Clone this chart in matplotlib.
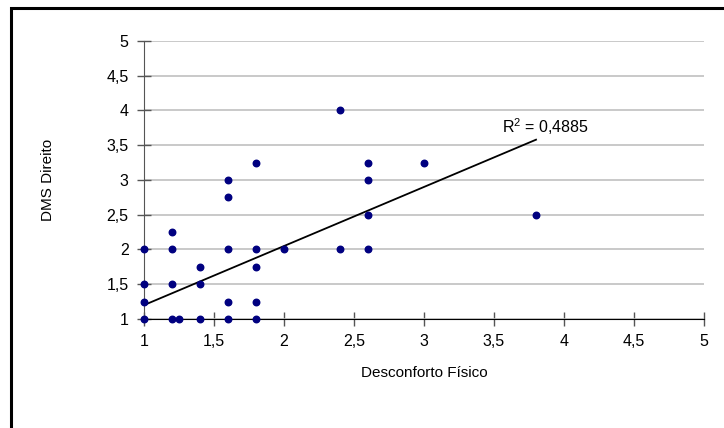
import matplotlib
matplotlib.use('Agg')
import matplotlib.pyplot as plt
from matplotlib.patches import Rectangle

plt.rcParams['font.family'] = ['Liberation Sans', 'DejaVu Sans']

# Desconforto fisico (x) vs DMS direito (y)
desconforto = [1, 1, 1, 1,
               1.2, 1.2, 1.2, 1.2,
               1.25,
               1.4, 1.4, 1.4,
               1.6, 1.6, 1.6, 1.6, 1.6,
               1.8, 1.8, 1.8, 1.8, 1.8,
               2.0,
               2.4, 2.4,
               2.6, 2.6, 2.6, 2.6,
               3.0,
               3.8]
dms_direito = [1, 1.25, 1.5, 2,
               1, 1.5, 2, 2.25,
               1,
               1, 1.5, 1.75,
               1, 1.25, 2, 2.75, 3,
               1, 1.25, 1.75, 2, 3.25,
               2,
               2, 4,
               2, 2.5, 3, 3.25,
               3.25,
               2.5]

# linear trend (Excel style)
trend_slope = 0.85
trend_intercept = 0.35
r2 = 0.4885

ticks = [1, 1.5, 2, 2.5, 3, 3.5, 4, 4.5, 5]
tick_labels = ['1', '1,5', '2', '2,5', '3', '3,5', '4', '4,5', '5']

fig = plt.figure(figsize=(7.24, 4.28), dpi=100)
# outer chart border (only top/left edges fall inside the image)
fig.patches.append(Rectangle((11 / 724, -0.1), 1.2, 1.1 - 8 / 428,
                             transform=fig.transFigure, fill=False,
                             edgecolor='black', linewidth=2.2))

ax = fig.add_axes([0.1989, 0.2547, 0.7735, 0.6495])
ax.set_xlim(1, 5)
ax.set_ylim(1, 5)
ax.set_xticks(ticks)
ax.set_xticklabels(tick_labels)
ax.set_yticks(ticks)
ax.set_yticklabels(tick_labels)

ax.yaxis.grid(True, color='#c0c0c0', linewidth=1.2)
ax.set_axisbelow(True)
for s in ['top', 'right']:
    ax.spines[s].set_visible(False)
ax.spines['left'].set_color('#555555')
ax.spines['bottom'].set_color('black')
ax.tick_params(axis='both', direction='inout', length=10, width=1,
               labelsize=11.5, pad=6, colors='black')
ax.tick_params(axis='y', color='#555555')
ax.tick_params(axis='x', color='#555555')

ax.scatter(desconforto, dms_direito, s=22, color='#000080', zorder=3,
           clip_on=False)

x0, x1 = min(desconforto), max(desconforto)
ax.plot([x0, x1], [trend_intercept + trend_slope * x0,
                   trend_intercept + trend_slope * x1],
        color='black', linewidth=1.3, zorder=2)
ax.text(3.56, 3.62, 'R$^{\\mathregular{2}}$ = %s' % str(r2).replace('.', ','),
        fontsize=11.5, ha='left', va='bottom')

ax.set_xlabel('Desconforto Físico', fontsize=11, labelpad=12)
ax.set_ylabel('DMS Direito', fontsize=11, labelpad=37)

fig.savefig('out.png', dpi=100)
